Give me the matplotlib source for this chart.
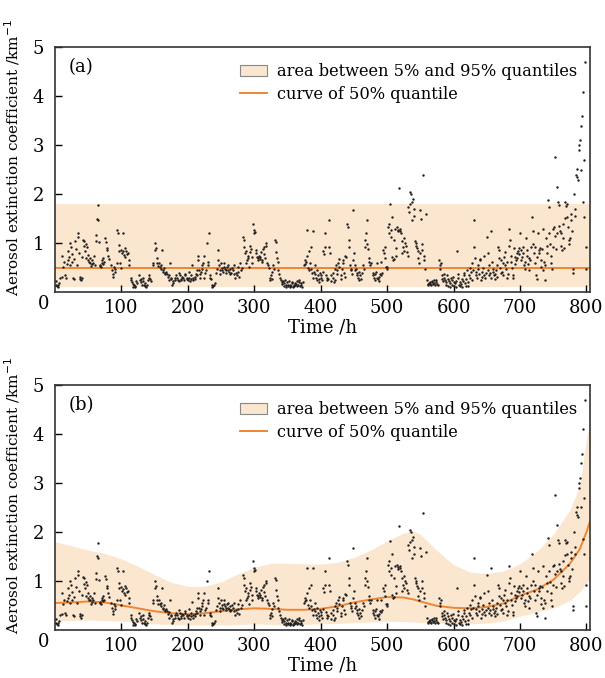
import matplotlib
matplotlib.use('Agg')
import matplotlib.pyplot as plt
from matplotlib.patches import Patch
from matplotlib.lines import Line2D

hours = [
    1, 2, 3, 4, 5, 6, 8, 10, 11, 12, 14, 15, 17, 18, 19, 20, 21, 22, 23, 24, 25, 26, 27, 28, 29, 30, 31, 33, 34, 35,
    36, 37, 38, 39, 40, 41, 42, 43, 44, 45, 46, 47, 48, 49, 50,
    51, 52, 53, 54, 55, 56, 57, 58, 60, 61, 62, 63, 64, 65, 66, 67, 68, 69, 70, 71, 72, 73, 74, 76, 77, 78, 79, 80,
    82, 84, 86, 87, 88, 89, 90, 91, 93, 94, 95, 96, 97, 98, 99,
    100, 101, 102, 103, 104, 105, 106, 107, 108, 110, 111, 112, 114, 115, 116, 117, 118, 119, 120, 121, 122, 124,
    126, 128, 129, 130, 131, 132, 133, 134, 135, 136, 137, 138, 140, 141, 142, 143, 145, 147, 148,
    150, 151, 152, 153, 154, 155, 157, 158, 159, 160, 161, 162, 163, 164, 165, 166, 167, 168, 170, 171, 172, 173,
    174, 175, 176, 177, 178, 180, 181, 182, 184, 185, 186, 187, 188, 189, 190, 191, 192, 194, 195, 196, 198, 199,
    200, 201, 202, 203, 204, 205, 206, 207, 208, 210, 211, 212, 213, 214, 215, 216, 217, 218, 219, 220, 221, 222,
    223, 224, 225, 226, 228, 229, 230, 231, 232, 233, 234, 235, 236, 237, 238, 240, 241, 243, 244, 245, 246, 247,
    248, 249,
    250, 251, 252, 253, 254, 255, 256, 257, 258, 259, 260, 261, 262, 263, 264, 265, 266, 268, 269, 270, 271, 272,
    274, 275, 276, 277, 278, 280, 281, 283, 284, 285, 286, 287, 288, 289, 290, 291, 292, 293, 294, 295, 296, 297,
    298,
    299, 300, 301, 302, 303, 304, 305, 306, 307, 308, 309, 310, 311, 312, 313, 314, 315, 316, 317, 318, 319, 320,
    322, 323, 324, 325, 326, 327, 328, 329, 331, 332, 333, 334, 335, 336, 337, 338, 340, 341, 342, 343, 344, 345,
    346, 347, 348, 349,
    350, 351, 352, 353, 354, 355, 356, 357, 358, 359, 360, 361, 362, 363, 364, 365, 366, 367, 368, 369, 370, 371,
    372, 374, 375, 376, 377, 378, 379, 380, 381, 382, 383, 384, 385, 386, 387, 388, 389, 390, 391, 392, 393, 394,
    395, 396, 397, 398, 399,
    400, 401, 402, 403, 404, 405, 406, 407, 408, 409, 410, 411, 412, 413, 414, 415, 416, 418, 419, 420, 421, 422,
    423, 424, 425, 426, 427, 428, 430, 431, 432, 433, 434, 435, 436, 437, 438, 440, 441, 442, 443, 444, 445, 446,
    447,
    448, 449, 450, 451, 452, 453, 454, 455, 456, 457, 458, 459, 460, 462, 464, 465, 466, 467, 468, 469, 470, 471,
    472, 473, 474, 476, 478, 479, 480, 481, 482, 483, 484, 485, 486, 487, 488, 489, 490, 491, 492, 494, 495, 496,
    497, 498, 499,
    500, 501, 502, 503, 504, 505, 506, 507, 508, 509, 510, 511, 512, 513, 514, 515, 516, 517, 518, 519, 520, 521,
    522, 523, 524, 525, 526, 527, 528, 530, 531, 532, 533, 534, 535, 536, 537, 538, 539, 540, 541, 542, 543, 544,
    545, 546, 547, 548, 549,
    550, 551, 552, 553, 554, 555, 556, 557, 558, 560, 561, 562, 563, 564, 565, 566, 567, 568, 569, 570, 571, 572,
    573, 574, 575, 576, 578, 579, 580, 581, 582, 583, 584, 585, 586, 587, 588, 589, 590, 591, 592, 593, 594, 595,
    596, 597, 598, 599,
    600, 601, 602, 603, 604, 605, 606, 607, 608, 609, 610, 611, 612, 613, 614, 615, 616, 617, 618, 619, 620, 621,
    622, 623, 624, 625, 626, 627, 628, 629, 630, 631, 632, 633, 634, 635, 636, 637, 638, 639, 640, 641, 642, 643,
    644, 645, 646, 647, 648,
    650, 651, 652, 653, 654, 655, 656, 657, 658, 659, 660, 661, 662, 663, 664, 665, 666, 667, 668, 669, 670, 671,
    672, 673, 674, 675, 676, 677, 678, 679, 680, 681, 682, 683, 684, 685, 686, 687, 688, 689, 690, 691, 692, 693,
    694, 695, 696, 697, 698, 699,
    700, 701, 702, 703, 704, 705, 706, 707, 708, 709, 710, 711, 712, 713, 714, 715, 716, 718, 719, 720, 721, 722,
    723, 724, 725, 726, 727, 728, 729, 730, 731, 732, 733, 734, 735, 736, 737, 738, 739, 740, 741, 742, 743, 744,
    745, 746, 747, 748, 749,
    750, 751, 752, 753, 754, 755, 756, 757, 758, 759, 760, 761, 762, 763, 764, 765, 766, 767, 768, 769, 770, 771,
    772, 773, 774, 775, 776, 777, 778, 779, 780, 781, 782, 783, 784, 785, 786, 787, 788, 789, 790, 791, 792, 793,
    794, 795, 796, 797, 798, 799, 800,
]
extinction = [
    0.22, 0.15, 0.12, 0.10, 0.14, 0.18, 0.30, 0.32, 0.75, 0.52, 0.62, 0.35, 0.30, 0.58, 0.65, 0.85, 0.72, 0.55, 1.00,
    0.92, 0.78, 0.62, 0.30, 0.28, 0.68, 1.05, 0.88, 0.55, 1.20, 1.13, 0.80, 0.32, 0.28, 0.25, 0.30, 0.72, 1.07, 1.05,
    0.94, 0.85, 0.70, 0.98, 0.92, 0.76, 0.65,
    0.62, 0.60, 0.70, 0.53, 0.66, 0.57, 0.60, 0.75, 0.55, 1.17, 1.04, 1.50, 1.47, 1.78, 1.02, 0.56, 0.54, 0.52, 0.60,
    0.65, 0.70, 0.58, 0.62, 1.10, 1.03, 0.90, 0.86, 0.75, 0.68, 0.55, 0.45, 0.38, 0.32, 0.52, 0.42, 0.48, 0.60, 1.27,
    1.20, 0.96, 0.85, 0.60, 0.50,
    0.87, 0.80, 1.20, 0.84, 0.76, 0.90, 0.72, 0.85, 0.78, 0.80, 0.65, 0.55, 0.30, 0.25, 0.20, 0.17, 0.10, 0.14, 0.12,
    0.10, 0.22, 0.18, 0.35, 0.25, 0.28, 0.20, 0.14, 0.30, 0.22, 0.15, 0.12, 0.18, 0.10, 0.14, 0.25, 0.30, 0.35, 0.28,
    0.22, 0.55, 0.60,
    1.00, 0.86, 0.90, 0.70, 0.60, 0.53, 0.60, 0.52, 0.55, 0.48, 0.86, 0.45, 0.42, 0.50, 0.40, 0.38, 0.42, 0.38, 0.32,
    0.36, 0.25, 0.60, 0.30, 0.28, 0.14, 0.18, 0.22, 0.30, 0.25, 0.35, 0.30, 0.25, 0.22, 0.40, 0.35, 0.28, 0.24, 0.32,
    0.30, 0.25, 0.38, 0.35, 0.28, 0.30,
    0.25, 0.42, 0.30, 0.22, 0.28, 0.35, 0.56, 0.30, 0.25, 0.32, 0.28, 0.38, 0.45, 0.35, 0.65, 0.75, 0.45, 0.30, 0.38,
    0.42, 0.55, 0.48, 0.60, 0.75, 0.30, 0.40, 0.45, 1.00, 0.55, 0.62, 1.20, 0.35, 0.30, 0.28, 0.15, 0.10, 0.12, 0.14,
    0.18, 0.40, 0.48, 0.65, 0.86, 0.55, 0.45, 0.38,
    0.60, 0.45, 0.50, 0.42, 0.52, 0.60, 0.48, 0.45, 0.40, 0.52, 0.55, 0.45, 0.42, 0.38, 0.48, 0.40, 0.50, 0.45, 0.38,
    0.55, 0.30, 0.40, 0.35, 0.52, 0.42, 0.32, 0.60, 0.45, 0.50, 1.13, 1.06, 0.92, 0.80, 0.60, 0.85, 0.65, 0.70, 0.75,
    0.52, 0.82, 0.95, 0.88, 0.72, 0.60, 1.40,
    1.27, 1.20, 1.22, 0.86, 0.80, 0.72, 0.70, 0.65, 0.75, 0.72, 0.68, 0.82, 0.66, 0.62, 0.88, 0.92, 0.78, 0.70, 0.95,
    1.00, 0.60, 0.55, 0.50, 0.30, 0.25, 0.35, 0.42, 0.28, 0.55, 0.48, 1.06, 0.82, 1.02, 0.70, 0.62, 0.45, 0.38, 0.30,
    0.25, 0.20, 0.16, 0.22, 0.12, 0.18, 0.25, 0.14, 0.10, 0.20,
    0.15, 0.12, 0.22, 0.10, 0.14, 0.12, 0.18, 0.20, 0.10, 0.14, 0.12, 0.15, 0.18, 0.16, 0.12, 0.22, 0.15, 0.20, 0.25,
    0.12, 0.18, 0.15, 0.10, 0.20, 0.55, 0.65, 0.58, 0.62, 1.27, 0.75, 0.50, 0.45, 0.85, 0.60, 0.92, 0.48, 0.40, 0.30,
    1.26, 0.42, 0.55, 0.38, 0.30, 0.24, 0.45, 0.35, 0.28, 0.20, 0.40,
    0.30, 0.36, 0.25, 0.42, 0.85, 0.78, 1.20, 0.92, 0.36, 0.30, 0.24, 0.28, 1.47, 0.92, 0.80, 0.35, 0.22, 0.40, 0.30,
    0.20, 0.25, 0.48, 0.55, 0.45, 0.38, 0.60, 0.68, 0.52, 0.35, 0.28, 0.48, 0.60, 0.65, 0.40, 0.32, 0.74, 0.72, 1.40,
    1.33, 1.06, 0.92, 0.55, 0.48, 0.45, 0.38,
    0.65, 1.67, 0.80, 0.55, 0.45, 0.48, 0.40, 0.35, 0.30, 0.42, 0.25, 0.35, 0.28, 0.40, 0.55, 0.48, 0.92, 1.06, 1.20,
    0.99, 1.47, 0.88, 0.62, 0.70, 0.55, 0.60, 0.40, 0.35, 0.30, 0.25, 0.38, 0.42, 0.30, 0.60, 0.28, 0.22, 0.32, 0.38,
    0.62, 0.36, 0.40, 0.86, 0.80, 0.92, 0.70, 0.52, 0.48,
    0.52, 1.33, 1.40, 1.20, 1.81, 1.27, 1.12, 1.54, 0.72, 0.65, 0.68, 1.06, 1.30, 0.90, 0.75, 1.33, 1.28, 1.25, 2.12,
    1.30, 1.26, 1.20, 1.05, 0.80, 0.92, 1.10, 0.85, 1.00, 0.95, 0.82, 0.75, 1.74, 1.64, 2.05, 1.80, 2.00, 1.84, 1.47,
    1.90, 1.70, 1.55, 1.05, 0.95, 1.00, 0.90, 0.85, 0.70, 0.60, 0.80,
    1.67, 1.50, 0.99, 0.86, 2.39, 0.75, 0.65, 0.48, 1.60, 0.24, 0.17, 0.14, 0.18, 0.20, 0.16, 0.15, 0.22, 0.20, 0.17,
    0.25, 0.18, 0.15, 0.20, 0.24, 0.17, 0.14, 0.65, 0.55, 0.48, 0.60, 0.35, 0.28, 0.22, 0.38, 0.30, 0.25, 0.20, 0.15,
    0.35, 0.28, 0.12, 0.22, 0.18, 0.10, 0.30, 0.25, 0.14, 0.32,
    0.20, 0.12, 0.18, 0.22, 0.10, 0.85, 0.30, 0.38, 0.14, 0.20, 0.12, 0.16, 0.28, 0.10, 0.22, 0.40, 0.35, 0.18, 0.12,
    0.28, 0.45, 0.20, 0.12, 0.35, 0.50, 0.30, 0.42, 0.25, 0.60, 0.45, 1.47, 0.92, 0.70, 0.35, 0.42, 0.30, 0.55, 0.48,
    0.38, 0.65, 0.68, 0.25, 0.42, 0.32, 0.50, 0.75, 0.36, 0.30, 0.40,
    1.13, 0.80, 0.45, 0.55, 0.35, 0.40, 0.30, 1.26, 0.62, 0.42, 0.48, 0.35, 0.38, 0.28, 0.45, 0.32, 0.55, 0.92, 0.86,
    0.70, 0.50, 0.65, 0.40, 0.42, 0.35, 0.60, 0.72, 0.82, 0.55, 0.48, 0.62, 0.30, 0.38, 1.30, 0.95, 1.06, 0.75, 0.62,
    0.50, 0.36, 0.30, 0.90, 0.72, 0.58, 0.65, 0.80, 0.70, 0.85, 0.90, 0.78,
    1.20, 0.86, 0.65, 0.72, 0.80, 0.92, 0.55, 0.48, 0.62, 1.10, 0.86, 0.75, 0.58, 0.45, 0.70, 0.65, 0.92, 1.54, 1.26,
    0.99, 0.80, 0.92, 0.60, 0.35, 0.28, 0.72, 1.20, 0.86, 0.80, 0.90, 0.65, 0.52, 0.88, 0.45, 1.30, 0.62, 0.55, 0.25,
    1.10, 0.80, 0.95, 1.88, 1.74, 1.20, 0.98, 0.75, 0.60, 0.48, 0.92,
    1.30, 1.33, 1.15, 2.76, 0.88, 1.20, 2.15, 1.84, 1.78, 1.35, 1.25, 1.20, 0.95, 0.86, 1.40, 1.10, 0.90, 1.52, 1.84,
    1.77, 1.80, 1.54, 1.33, 1.06, 0.99, 1.10, 1.60, 1.47, 1.25, 0.48, 0.40, 2.00, 1.70, 1.55, 2.40, 2.52, 2.35, 2.30,
    2.90, 3.00, 3.10, 3.40, 2.50, 3.60, 1.85, 4.10, 1.54, 2.70, 4.70, 0.92, 0.48,
]

# panel (a): constant quantiles over the whole record
span_a = [0, 805]
q05_a = [0.10, 0.10]
q50_a = [0.50, 0.50]
q95_a = [1.80, 1.80]

# panel (b): time-varying quantiles
t_b = [0, 25, 50, 75, 100, 125, 150, 175, 200, 225, 250, 275, 300, 325, 350, 375, 400, 425, 450, 475, 500,
       525, 540, 550, 575, 600, 625, 650, 675, 700, 725, 750, 775, 790, 800, 805]
q95_b = [1.80, 1.72, 1.63, 1.56, 1.45, 1.30, 1.13, 0.97, 0.89, 0.89, 0.98, 1.14, 1.28, 1.36, 1.36, 1.35, 1.34,
         1.38, 1.48, 1.63, 1.82, 1.98, 2.02, 1.95, 1.62, 1.33, 1.18, 1.15, 1.20, 1.35, 1.60, 1.95, 2.45, 2.95,
         3.90, 4.30]
q05_b = [0.18, 0.19, 0.20, 0.19, 0.18, 0.15, 0.12, 0.11, 0.10, 0.10, 0.10, 0.11, 0.12, 0.11, 0.10, 0.11, 0.12,
         0.13, 0.15, 0.16, 0.18, 0.17, 0.16, 0.15, 0.14, 0.12, 0.12, 0.14, 0.18, 0.28, 0.36, 0.45, 0.60, 0.78,
         0.95, 1.05]
q50_b = [0.55, 0.56, 0.58, 0.56, 0.50, 0.44, 0.38, 0.34, 0.32, 0.34, 0.38, 0.42, 0.44, 0.43, 0.41, 0.41, 0.43,
         0.48, 0.56, 0.62, 0.67, 0.66, 0.62, 0.58, 0.49, 0.45, 0.44, 0.47, 0.54, 0.70, 0.82, 1.02, 1.35, 1.65,
         2.00, 2.20]

band_color = '#fbe7cf'
line_color = '#ee8633'

plt.rcParams['font.family'] = 'DejaVu Serif'
plt.rcParams['font.size'] = 12

fig = plt.figure(figsize=(6.05, 6.78), dpi=100)
ax_a = fig.add_axes([0.0909, 0.569, 0.884, 0.361])
ax_b = fig.add_axes([0.0909, 0.071, 0.884, 0.361])

panels = [
    (ax_a, '(a)', span_a, q05_a, q95_a, q50_a),
    (ax_b, '(b)', t_b, q05_b, q95_b, q50_b),
]

for ax, tag, tq, lo, hi, mid in panels:
    ax.fill_between(tq, lo, hi, color=band_color, lw=0, zorder=1)
    ax.plot(tq, mid, color=line_color, lw=1.4, zorder=2)
    ax.scatter(hours, extinction, s=3, color='#1e1e1e', lw=0, zorder=3)
    ax.set_xlim(0, 805)
    ax.set_ylim(0, 5)
    ax.set_xticks([100, 200, 300, 400, 500, 600, 700, 800])
    ax.set_yticks([1, 2, 3, 4, 5])
    ax.tick_params(direction='in', length=5, width=1, labelsize=13, pad=5)
    ax.tick_params(axis='y', pad=8)
    for sp in ax.spines.values():
        sp.set_linewidth(1.2)
        sp.set_color('#333333')
    ax.text(-0.022, -0.048, '0', transform=ax.transAxes, ha='center', va='center', fontsize=13)
    ax.text(0.025, 0.92, tag, transform=ax.transAxes, ha='left', va='center', fontsize=13)
    ax.set_xlabel('Time /h', fontsize=13, labelpad=1)
    ax.set_ylabel('Aerosol extinction coefficient /km$^{-1}$', fontsize=11)
    ax.yaxis.set_label_coords(-0.062, 0.55)
    handles = [Patch(facecolor=band_color, edgecolor='#888888', lw=0.8),
               Line2D([0], [0], color=line_color, lw=1.4)]
    ax.legend(handles, ['area between 5% and 95% quantiles', 'curve of 50% quantile'],
              loc='upper right', bbox_to_anchor=(0.995, 0.975), frameon=False, fontsize=11.7,
              handlelength=1.7, handletextpad=0.6, labelspacing=0.35, borderaxespad=0.2)

fig.savefig('out.png', dpi=100)
